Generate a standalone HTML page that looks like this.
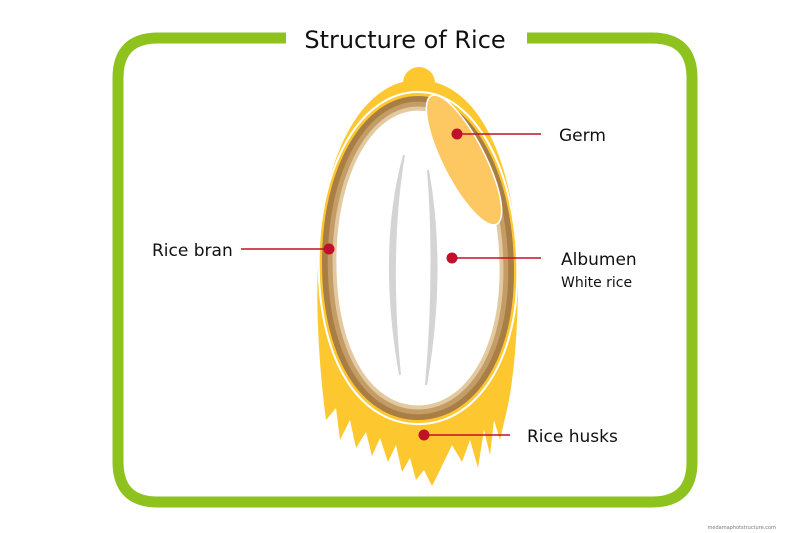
<!DOCTYPE html>
<html><head><meta charset="utf-8"><style>
html,body{margin:0;padding:0;background:#fff;}
svg{display:block;}
text{font-family:"DejaVu Sans","Liberation Sans",sans-serif;fill:#111;}
</style></head><body>
<svg width="800" height="533" viewBox="0 0 800 533" xmlns="http://www.w3.org/2000/svg">
<defs>
<path id="egg" d="M418 96 C472 96 514 172 514 272 C514 362 472 420 418 420 C364 420 322 362 322 262 C322 166 364 96 418 96 Z"/>
</defs>
<path d="M286 38 H158 Q118 38 118 78 V462 Q118 502 158 502 H652 Q692 502 692 462 V78 Q692 38 652 38 H527" fill="none" stroke="#8dc21f" stroke-width="11"/>
<text x="405" y="48" font-size="24" text-anchor="middle">Structure of Rice</text>
<ellipse cx="419" cy="83" rx="16" ry="16" fill="#fdc82f"/>
<path d="M418 80 C482 80 520 172 518 290 C517 350 512 385 508 405 L500 440 L494 420 L490 455 L484 430 L478 468 L470 440 L462 462 L452 445 L440 470 L432 486 L424 470 L416 480 L410 458 L402 472 L396 445 L388 462 L380 438 L372 456 L366 432 L356 448 L350 420 L340 440 L336 408 L326 420 C318 360 316 300 318 262 C320 166 358 80 418 80 Z" fill="#fdc82f"/>
<use href="#egg" transform="translate(418 258) scale(1.035 1.025) translate(-418 -258)" fill="none" stroke="#fff" stroke-width="2"/>
<use href="#egg" fill="#a87e45"/>
<use href="#egg" transform="translate(418 258) scale(0.94 0.965) translate(-418 -258)" fill="#c49c66"/>
<use href="#egg" transform="translate(418 258) scale(0.89 0.935) translate(-418 -258)" fill="#e2c9a0"/>
<use href="#egg" transform="translate(418 258) scale(0.85 0.91) translate(-418 -258)" fill="#fff"/>
<ellipse cx="464" cy="160" rx="21" ry="72" transform="rotate(-27 464 160)" fill="#fdc862" stroke="#fff" stroke-width="1.5"/>
<path d="M404 155 Q378 250 400 375 Q388 250 404 155 Z" fill="#d4d4d4" stroke="#d4d4d4" stroke-width="2"/>
<path d="M428 170 Q446 270 426 385 Q436 270 428 170 Z" fill="#d4d4d4" stroke="#d4d4d4" stroke-width="2"/>
<g stroke="#c0102a" stroke-width="1.5">
<line x1="457" y1="134" x2="541" y2="134"/>
<line x1="241" y1="249" x2="329" y2="249"/>
<line x1="452" y1="258" x2="541" y2="258"/>
<line x1="424" y1="435" x2="510" y2="435"/>
</g>
<g fill="#c0102a">
<circle cx="457" cy="134" r="5.5"/>
<circle cx="329" cy="249" r="5.5"/>
<circle cx="452" cy="258" r="5.5"/>
<circle cx="424" cy="435" r="5.5"/>
</g>
<text x="559" y="141" font-size="17">Germ</text>
<text x="152" y="256" font-size="17">Rice bran</text>
<text x="561" y="265" font-size="17">Albumen</text>
<text x="561" y="287" font-size="14">White rice</text>
<text x="527" y="442" font-size="17">Rice husks</text>
<text x="776" y="529" font-size="5" text-anchor="end" style="fill:#777">medamaphotstructure.com</text>
</svg>
</body></html>
